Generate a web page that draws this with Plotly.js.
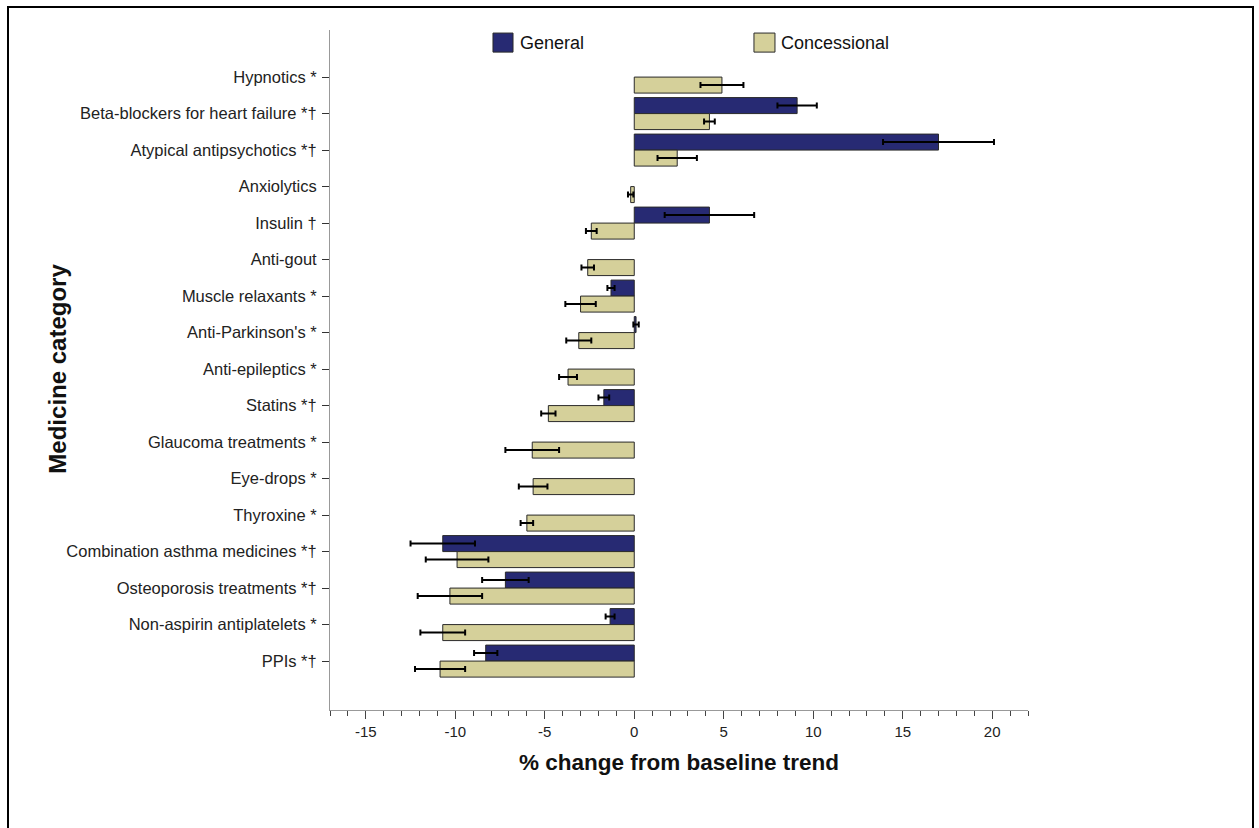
<!DOCTYPE html>
<html>
<head>
<meta charset="utf-8">
<script src="https://cdn.plot.ly/plotly-3.0.1.min.js"></script>
<style>
html,body{margin:0;padding:0;overflow:hidden;background:#fff;}
#chart{width:1259px;height:828px;position:absolute;left:0;top:0;}
#frame{position:absolute;left:7px;top:6px;width:1243px;height:840px;border:2px solid #000;pointer-events:none;}
</style>
</head>
<body>
<div id="chart"></div>
<div id="frame"></div>
<script>
const categories = [
  "Hypnotics *",
  "Beta-blockers for heart failure *†",
  "Atypical antipsychotics *†",
  "Anxiolytics",
  "Insulin †",
  "Anti-gout",
  "Muscle relaxants *",
  "Anti-Parkinson's *",
  "Anti-epileptics *",
  "Statins *†",
  "Glaucoma treatments *",
  "Eye-drops *",
  "Thyroxine *",
  "Combination asthma medicines *†",
  "Osteoporosis treatments *†",
  "Non-aspirin antiplatelets *",
  "PPIs *†"
];
const generalValues = [null, 9.1, 17.0, null, 4.2, null, -1.3, 0.1, null, -1.7, null, null, null, -10.7, -7.2, -1.35, -8.3];
const generalErrors = [null, 1.1, 3.1, null, 2.5, null, 0.2, 0.15, null, 0.3, null, null, null, 1.8, 1.3, 0.25, 0.65];
const concessionalValues = [4.9, 4.2, 2.4, -0.2, -2.4, -2.6, -3.0, -3.1, -3.7, -4.8, -5.7, -5.65, -6.0, -9.9, -10.3, -10.7, -10.85];
const concessionalErrors = [1.2, 0.3, 1.1, 0.15, 0.3, 0.35, 0.85, 0.7, 0.5, 0.4, 1.5, 0.8, 0.35, 1.75, 1.8, 1.25, 1.4];
const xTickValues = [-15, -10, -5, 0, 5, 10, 15, 20];
const xTickLabels = ["-15", "-10", "-5", "0", "5", "10", "15", "20"];
const seriesNames = ["General", "Concessional"];
const seriesColors = ["#272a73", "#d5d09a"];
const xTitle = "% change from baseline trend";
const yTitle = "Medicine category";

const font = "Liberation Sans, Arial, sans-serif";

function barTrace(name, vals, errs, color) {
  return {
    type: "bar",
    orientation: "h",
    name: name,
    y: categories,
    x: vals,
    marker: {color: color, line: {color: "#2a2a2a", width: 1}},
    error_x: {type: "data", array: errs, visible: true, color: "#000", thickness: 2, width: 3},
    hoverinfo: "x+y+name"
  };
}

const data = [
  barTrace(seriesNames[0], generalValues, generalErrors, seriesColors[0]),
  barTrace(seriesNames[1], concessionalValues, concessionalErrors, seriesColors[1])
];

// legend drawn with shapes and text (paper coords)
const legendItems = [
  {x0: 0.2335, x1: 0.2622, tx: 0.270},
  {x0: 0.6074, x1: 0.6375, tx: 0.6435}
];
const shapes = legendItems.map((it, i) => ({
  type: "rect", xref: "paper", yref: "paper",
  x0: it.x0, x1: it.x1, y0: 0.9675, y1: 0.9955,
  fillcolor: seriesColors[i], line: {color: "#2a2a2a", width: 1}
}));
const annotations = legendItems.map((it, i) => ({
  xref: "paper", yref: "paper", x: it.tx, y: 0.9815,
  xanchor: "left", yanchor: "middle", showarrow: false,
  text: seriesNames[i], font: {family: font, size: 18, color: "#111"}
}));
// y-axis title placed as rotated text
annotations.push({
  xref: "paper", yref: "paper", x: -0.3897, y: 0.502,
  xanchor: "center", yanchor: "middle", showarrow: false, textangle: -90,
  text: "<b>" + yTitle + "</b>", font: {family: font, size: 24, color: "#111"}
});

const layout = {
  width: 1259, height: 828,
  margin: {l: 330, r: 231, t: 30, b: 118, pad: 0},
  paper_bgcolor: "#fff", plot_bgcolor: "#fff",
  showlegend: false,
  barmode: "group",
  bargap: 0.123,
  bargroupgap: 0,
  font: {family: font, size: 14, color: "#222"},
  xaxis: {
    range: [-17, 22],
    tickmode: "array",
    tickvals: xTickValues,
    ticktext: xTickLabels,
    ticks: "outside", ticklen: 8, tickwidth: 1, tickcolor: "#444",
    minor: {tickmode: "linear", tick0: 0, dtick: 1, ticks: "outside", ticklen: 5, tickwidth: 1, tickcolor: "#444", showgrid: false},
    showline: true, linecolor: "#999", linewidth: 1,
    showgrid: false, zeroline: false,
    tickfont: {family: font, size: 15, color: "#222"},
    title: {text: xTitle, font: {family: font, size: 22.5, color: "#111", weight: "bold"}, standoff: 15},
    automargin: false
  },
  yaxis: {
    type: "category",
    range: [17.34, -1.29],
    ticks: "outside", ticklen: 7, tickwidth: 1, tickcolor: "#333",
    showline: true, linecolor: "#999", linewidth: 1,
    showgrid: false, zeroline: false,
    tickfont: {family: font, size: 16.5, color: "#222"},
    ticklabelstandoff: 2,
    automargin: false
  },
  shapes: shapes,
  annotations: annotations
};

Plotly.newPlot("chart", data, layout, {displayModeBar: false, staticPlot: true});
</script>
</body>
</html>
